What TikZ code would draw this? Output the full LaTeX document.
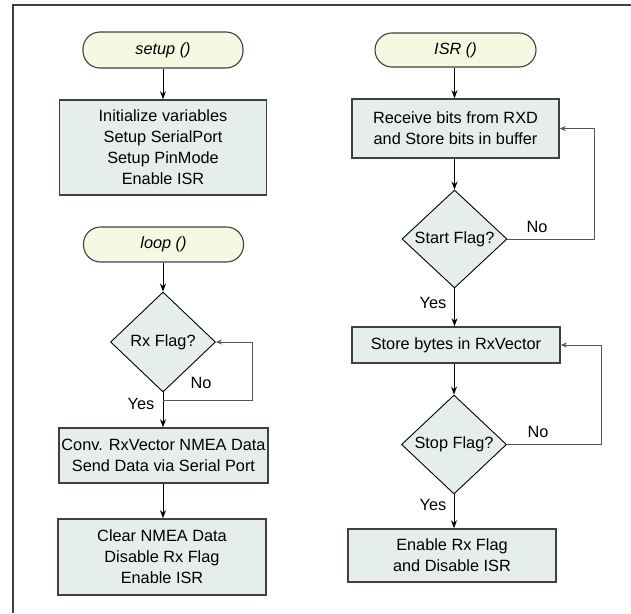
\documentclass[tikz,border=0pt]{standalone}
\usepackage{fontspec}
\setmainfont{Liberation Sans}
\usetikzlibrary{shapes.geometric,arrows.meta,calc}
\definecolor{termfill}{HTML}{F4F9E2}
\definecolor{boxfill}{HTML}{E6EEEA}
\definecolor{edgegray}{HTML}{404040}
\definecolor{loopgray}{HTML}{555555}
\begin{document}
\begin{tikzpicture}[x=1pt,y=-1pt,
  every node/.style={font=\fontsize{16.3}{21}\selectfont},
  term/.style={draw=edgegray,line width=1.1pt,fill=termfill,rounded corners=17pt,inner sep=0pt,font=\fontsize{16.3}{21}\selectfont\itshape},
  procbox/.style={draw=edgegray,line width=1.6pt,fill=boxfill,inner sep=0pt,align=center},
  decis/.style={draw=black,line width=0.9pt,fill=boxfill,diamond,inner sep=0pt,shape aspect=1.07},
  flow/.style={draw=black,line width=0.9pt,-{Stealth[length=8pt,width=6pt]}},
  back/.style={draw=loopgray,line width=0.8pt,-{Stealth[length=6pt,width=5pt]}},
  lbl/.style={inner sep=0pt}]
\useasboundingbox (0,0) rectangle (631,613);
\draw[edgegray,line width=1.3pt] (13,613) -- (13,5) -- (631,5);
% left column
\node[term,minimum width=160pt,minimum height=36pt] (setup) at (163,50) {setup ()};
\node[procbox,minimum width=207pt,minimum height=95pt] (init) at (163,147.5) {Initialize variables\\Setup SerialPort\\Setup PinMode\\Enable ISR};
\node[term,minimum width=160pt,minimum height=35pt] (loop) at (163.5,244.5) {loop ()};
\node[decis,minimum width=105pt,minimum height=100pt] (rx) at (163,342) {Rx Flag?};
\node[procbox,minimum width=209pt,minimum height=55pt] (conv) at (163.5,455.5) {Conv. RxVector NMEA Data\\Send Data via Serial Port};
\node[procbox,minimum width=208pt,minimum height=76pt] (clear) at (162,557) {Clear NMEA Data\\Disable Rx Flag\\Enable ISR};
\coordinate (rxj) at (163,400);
\coordinate (rxc) at (252,400);
\draw[flow] (setup.south) -- (setup.south |- init.north);
\draw[flow] (loop.south -| rx.north) -- (rx.north);
\draw[flow] (rx.south) -- (rx.south |- conv.north);
\draw[flow] (conv.south -| rx.south) -- (rx.south |- clear.north);
\draw[back] (rxj) -- (rxc) |- (rx.east);
\node[lbl] (rxno) at (201,383) {No};
\node[lbl] (rxyes) at (141,404) {Yes};
% right column
\node[term,minimum width=161pt,minimum height=34pt] (isr) at (455.5,50) {ISR ()};
\node[procbox,minimum width=207pt,minimum height=59pt] (recv) at (455.5,128.5) {Receive bits from RXD\\and Store bits in buffer};
\node[decis,minimum width=105pt,minimum height=98pt] (start) at (454.5,239) {Start Flag?};
\node[procbox,minimum width=208pt,minimum height=36pt] (store) at (456,345) {Store bytes in RxVector};
\node[decis,minimum width=105pt,minimum height=99pt] (stop) at (454,444.5) {Stop Flag?};
\node[procbox,minimum width=208pt,minimum height=53pt] (enable) at (452,555.5) {Enable Rx Flag\\and Disable ISR};
\coordinate (startc) at (594,239);
\coordinate (stopc) at (601,444.5);
\draw[flow] (isr.south -| start.north) -- (start.north |- recv.north);
\draw[flow] (recv.south -| start.north) -- (start.north);
\draw[flow] (start.south) -- (start.south |- store.north);
\draw[flow] (store.south -| stop.north) -- (stop.north);
\draw[flow] (stop.south) -- (stop.south |- enable.north);
\draw[back] (start.east) -- (startc) |- (recv.east);
\draw[back] (stop.east) -- (stopc) |- (store.east);
\node[lbl] (stno) at (537,227) {No};
\node[lbl] (styes) at (433,303) {Yes};
\node[lbl] (spno) at (538,432) {No};
\node[lbl] (spyes) at (433,505) {Yes};
\end{tikzpicture}
\end{document}
